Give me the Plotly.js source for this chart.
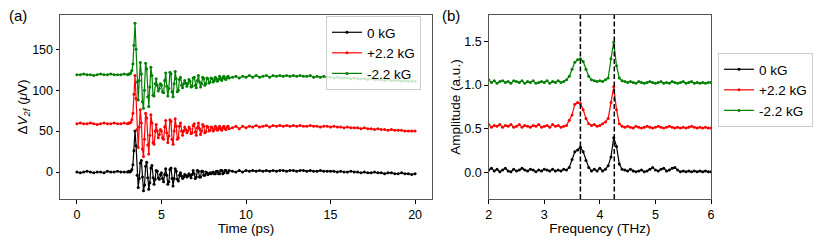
<!DOCTYPE html>
<html>
<head>
<meta charset="utf-8">
<script src="https://cdn.plot.ly/plotly-3.0.1.min.js"></script>
<style>html,body{margin:0;padding:0;background:#fff;}#chart{width:831px;height:248px;}</style>
</head>
<body>
<div id="chart"></div>
<script>
// ---------- Data ----------
const seriesNames = ['0 kG', '+2.2 kG', '-2.2 kG'];

// Time axis (ps)
const timePs = [
  0,0.2,0.4,0.6,0.8,1.0,1.2,1.4,1.6,1.8,2.0,2.2,2.4,2.6,2.8,
  3,3.0625,3.125,3.1875,3.25,3.3125,3.375,3.4375,3.5,3.5625,3.625,3.6875,3.75,3.8125,3.875,3.9375,
  4,4.0625,4.125,4.1875,4.25,4.3125,4.375,4.4375,4.5,4.5625,4.625,4.6875,4.75,4.8125,4.875,4.9375,
  5,5.0625,5.125,5.1875,5.25,5.3125,5.375,5.4375,5.5,5.5625,5.625,5.6875,5.75,5.8125,5.875,5.9375,
  6,6.0625,6.125,6.1875,6.25,6.3125,6.375,6.4375,6.5,6.5625,6.625,6.6875,6.75,6.8125,6.875,6.9375,
  7,7.0625,7.125,7.1875,7.25,7.3125,7.375,7.4375,7.5,7.5625,7.625,7.6875,7.75,7.8125,7.875,7.9375,
  8,8.0625,8.125,8.1875,8.25,8.3125,8.375,8.4375,8.5,8.5625,8.625,8.6875,8.75,8.8125,8.875,8.9375,
  9,
  9.2,9.4,9.6,9.8,
  10,10.2,10.4,10.6,10.8,11,11.2,11.4,11.6,11.8,12,12.2,12.4,12.6,12.8,13,13.2,13.4,13.6,13.8,
  14,14.2,14.4,14.6,14.8,15,15.2,15.4,15.6,15.8,16,16.2,16.4,16.6,16.8,17,17.2,17.4,17.6,17.8,
  18,18.2,18.4,18.6,18.8,19,19.2,19.4,19.6,19.8,20
];

// ΔV2f (μV), 0 kG
const signal0kG = [
  0,-1,0,1,0,-1,0,0,-1,1,0,0,1,0,0,
  0,1,0,1,3,9,26,50,32,-4,-19,-8,11,14,-6,-23,
  -16,7,12,-7,-21,-13,5,8,-7,-15,-9,2,1,-7,-9,-3,
  -1,-8,-12,-3,4,-4,-15,-12,3,5,-8,-17,-8,4,1,-9,
  -11,-4,-1,-5,-8,-6,-3,-4,-6,-5,-2,-4,-7,-3,2,-2,
  -8,-6,2,1,-6,-6,1,1,-4,-4,0,-1,-3,-2,-1,-2,
  -1,0,-2,-2,1,1,-2,-2,2,2,-2,-1,2,2,-1,-1,
  2,
  1,0,2,0,
  2,1,2,1,2, 1,2,1,2,1, 2,2,1,2,2, 1,2,2,1,2,
  1,1,2,1,1, 1,1,0,1,0, 0,1,0,0,-1, 0,-1,-1,0,-1,
  -1,-2,-1,-1,-2, -2,-1,-2,-2,-3, -2
];

// ΔV2f (μV), +2.2 kG (offset trace)
const signalPlus = [
  59,60,59,59,60,59,58,59,60,59,59,60,59,59,60,
  59,60,60,61,64,72,95,118,90,52,30,55,76,60,28,19,
  40,72,66,33,22,45,70,60,36,34,50,58,50,42,46,52,
  50,42,40,55,63,48,36,44,64,62,40,34,50,65,56,40,
  42,56,60,50,45,50,55,52,48,50,55,53,47,48,57,59,
  49,45,54,60,53,46,50,58,56,48,49,56,55,50,51,55,
  54,50,52,56,54,51,53,56,53,51,54,56,53,52,55,56,
  53,
  54,56,53,56,
  54,56,55,57,55, 56,57,55,57,56, 57,56,57,56,57, 56,57,56,56,57,
  56,56,55,56,56, 55,56,55,55,54, 55,54,54,54,53, 54,53,53,52,53,
  52,52,51,52,51, 51,51,50,50,50, 50
];

// ΔV2f (μV), -2.2 kG (offset trace)
const signalMinus = [
  119,119,120,119,119,118,119,120,119,119,120,119,119,119,120,
  119,120,120,121,124,132,155,182,150,110,88,112,134,120,86,78,
  100,133,126,92,80,104,128,118,94,93,108,114,106,99,102,108,
  106,98,97,112,121,105,93,102,122,120,98,92,108,123,114,98,
  100,113,116,106,103,108,112,109,105,108,113,111,104,105,115,116,
  106,103,112,118,110,104,108,116,114,106,108,115,114,109,110,115,
  114,110,112,116,114,111,113,117,114,112,115,117,114,113,116,117,
  115,
  116,117,115,117,
  116,118,116,118,116, 117,118,116,118,117, 118,117,118,117,118, 117,118,117,117,118,
  116,117,116,117,116, 116,115,116,115,115, 115,114,115,114,114, 114,113,114,113,113,
  113,112,113,112,112, 112,111,112,111,111, 111
];

// Frequency axis (THz)
const freqTHz = [
  2.00,2.05,2.10,2.15,2.20,2.25,2.30,2.35,2.40,2.45,
  2.50,2.55,2.60,2.65,2.70,2.75,2.80,2.85,2.90,2.95,
  3.00,3.05,3.10,3.15,3.20,3.25,3.30,3.35,3.40,3.45,
  3.50,3.55,3.60,3.65,3.70,3.75,3.80,3.85,3.90,3.95,
  4.00,4.05,4.10,4.15,4.20,4.25,4.30,4.35,4.40,4.45,
  4.50,4.55,4.60,4.65,4.70,4.75,4.80,4.85,4.90,4.95,
  5.00,5.05,5.10,5.15,5.20,5.25,5.30,5.35,5.40,5.45,
  5.50,5.55,5.60,5.65,5.70,5.75,5.80,5.85,5.90,5.95,
  6.00
];

// Amplitude (a.u.)
const amp0kG = [
  0.03,0.05,0.02,0.04,0.01,0.03,0.05,0.02,0.01,0.04,
  0.02,0.03,0.05,0.03,0.02,0.04,0.03,0.01,0.03,0.02,
  0.04,0.03,0.02,0.04,0.02,0.03,0.02,0.04,0.03,0.06,
  0.15,0.24,0.26,0.29,0.24,0.14,0.06,0.02,0.04,0.02,
  0.05,0.02,0.04,0.08,0.18,0.40,0.30,0.10,0.04,0.03,
  0.02,0.04,0.02,0.01,0.02,0.03,0.01,0.02,0.04,0.06,
  0.03,0.02,0.04,0.05,0.02,0.03,0.05,0.06,0.03,0.01,
  0.02,0.01,0.02,0.01,0.02,0.01,0.02,0.01,0.02,0.01,
  0.01
];
const ampPlus = [
  0.55,0.52,0.54,0.53,0.55,0.52,0.54,0.53,0.55,0.52,
  0.53,0.55,0.52,0.54,0.53,0.52,0.54,0.53,0.55,0.52,
  0.53,0.54,0.52,0.55,0.53,0.54,0.52,0.53,0.54,0.60,
  0.66,0.78,0.80,0.79,0.72,0.62,0.56,0.54,0.55,0.53,
  0.54,0.56,0.58,0.62,0.80,0.98,0.72,0.56,0.53,0.52,
  0.53,0.52,0.51,0.53,0.52,0.51,0.52,0.53,0.52,0.51,
  0.52,0.53,0.52,0.51,0.52,0.53,0.52,0.51,0.52,0.51,
  0.52,0.51,0.52,0.53,0.52,0.51,0.52,0.51,0.52,0.51,
  0.51
];
const ampMinus = [
  1.06,1.03,1.05,1.02,1.04,1.05,1.03,1.04,1.02,1.05,
  1.04,1.03,1.05,1.02,1.04,1.03,1.05,1.02,1.03,1.04,
  1.03,1.05,1.02,1.04,1.03,1.05,1.03,1.04,1.06,1.10,
  1.18,1.26,1.29,1.30,1.27,1.18,1.10,1.06,1.05,1.04,
  1.05,1.04,1.06,1.08,1.30,1.49,1.22,1.08,1.05,1.04,
  1.03,1.04,1.03,1.02,1.04,1.03,1.02,1.03,1.04,1.03,
  1.02,1.03,1.04,1.02,1.03,1.02,1.04,1.03,1.02,1.03,
  1.04,1.02,1.03,1.04,1.02,1.03,1.02,1.03,1.02,1.03,
  1.03
];

// Mode frequencies marked by dashed lines (THz)
const peakLinesTHz = [3.65, 4.26];

const xTicksTime = [0, 5, 10, 15, 20];
const yTicksSignal = [0, 50, 100, 150];
const xTicksFreq = [2, 3, 4, 5, 6];
const yTicksAmp = [0, 0.5, 1.0, 1.5];

// ---------- Styling / build ----------
const traceColors = ['#000000', '#ff0000', '#008000'];
const timeSeries = [signal0kG, signalPlus, signalMinus];
const freqSeries = [amp0kG, ampPlus, ampMinus];

const traces = [];
timeSeries.forEach((ys, i) => {
  traces.push({
    x: timePs, y: ys, name: seriesNames[i], type: 'scatter', mode: 'lines+markers',
    xaxis: 'x', yaxis: 'y', legend: 'legend',
    line: {color: traceColors[i], width: 1.2},
    marker: {color: traceColors[i], size: 3}
  });
});
freqSeries.forEach((ys, i) => {
  traces.push({
    x: freqTHz, y: ys, name: seriesNames[i], type: 'scatter', mode: 'lines+markers',
    xaxis: 'x2', yaxis: 'y2', legend: 'legend2',
    line: {color: traceColors[i], width: 1.2},
    marker: {color: traceColors[i], size: 3}
  });
});

const W = 831, H = 248, ML = 60, MR = 120, MT = 15, MB = 49;
const PW = W - ML - MR, PH = H - MT - MB;
const px = v => (v - ML) / PW;
const py = v => 1 - (v - MT) / PH;

const axisCommon = {
  showline: true, mirror: true, linecolor: '#555', linewidth: 1,
  ticks: 'outside', ticklen: 3.5, tickwidth: 1, tickcolor: '#000',
  showgrid: false, zeroline: false, automargin: false,
  tickfont: {size: 12.5, color: '#000'}
};

const layout = {
  width: W, height: H,
  margin: {l: ML, r: MR, t: MT, b: MB, pad: 0},
  paper_bgcolor: '#fff', plot_bgcolor: '#fff',
  font: {family: '"Liberation Sans", Arial, sans-serif', size: 13, color: '#000'},
  showlegend: true,
  xaxis: Object.assign({}, axisCommon, {
    domain: [0, px(432)], range: [-1, 21], tickvals: xTicksTime, anchor: 'y',
    title: {text: 'Time (ps)', font: {size: 13.5}, standoff: 0}
  }),
  yaxis: Object.assign({}, axisCommon, {
    domain: [0, 1], range: [-33, 192], tickvals: yTicksSignal, anchor: 'x',
    title: {text: 'Δ<i>V</i><sub><i>2f</i></sub> (<i>μ</i>V)', font: {size: 13.5}, standoff: 0}
  }),
  xaxis2: Object.assign({}, axisCommon, {
    domain: [px(488.7), 1], range: [2, 6], tickvals: xTicksFreq, anchor: 'y2',
    title: {text: 'Frequency (THz)', font: {size: 13.5}, standoff: 0}
  }),
  yaxis2: Object.assign({}, axisCommon, {
    domain: [0, 1], range: [-0.3, 1.8], tickvals: yTicksAmp, tickformat: '.1f', anchor: 'x2',
    title: {text: 'Amplitude (a.u.)', font: {size: 13.5}, standoff: 0}
  }),
  legend: {
    x: px(326), y: py(16), xanchor: 'left', yanchor: 'top',
    bgcolor: 'rgba(255,255,255,0.8)', bordercolor: '#cccccc', borderwidth: 1,
    font: {size: 13.5}, tracegroupgap: 0
  },
  legend2: {
    x: px(718), y: py(53), xanchor: 'left', yanchor: 'top',
    bgcolor: 'rgba(255,255,255,0.8)', bordercolor: '#cccccc', borderwidth: 1,
    font: {size: 13.5}, tracegroupgap: 0
  },
  shapes: peakLinesTHz.map(f => ({
    type: 'line', xref: 'x2', yref: 'y2 domain', x0: f, x1: f, y0: 0, y1: 1,
    line: {color: '#000', width: 1.5, dash: '5px,2.5px'}, layer: 'above'
  })),
  annotations: [
    {text: '(a)', xref: 'paper', yref: 'paper', x: px(7), y: py(15), xanchor: 'left', yanchor: 'middle', showarrow: false, font: {size: 15}},
    {text: '(b)', xref: 'paper', yref: 'paper', x: px(440), y: py(15), xanchor: 'left', yanchor: 'middle', showarrow: false, font: {size: 15}}
  ]
};

Plotly.newPlot('chart', traces, layout, {displayModeBar: false, staticPlot: true});
</script>
</body>
</html>
